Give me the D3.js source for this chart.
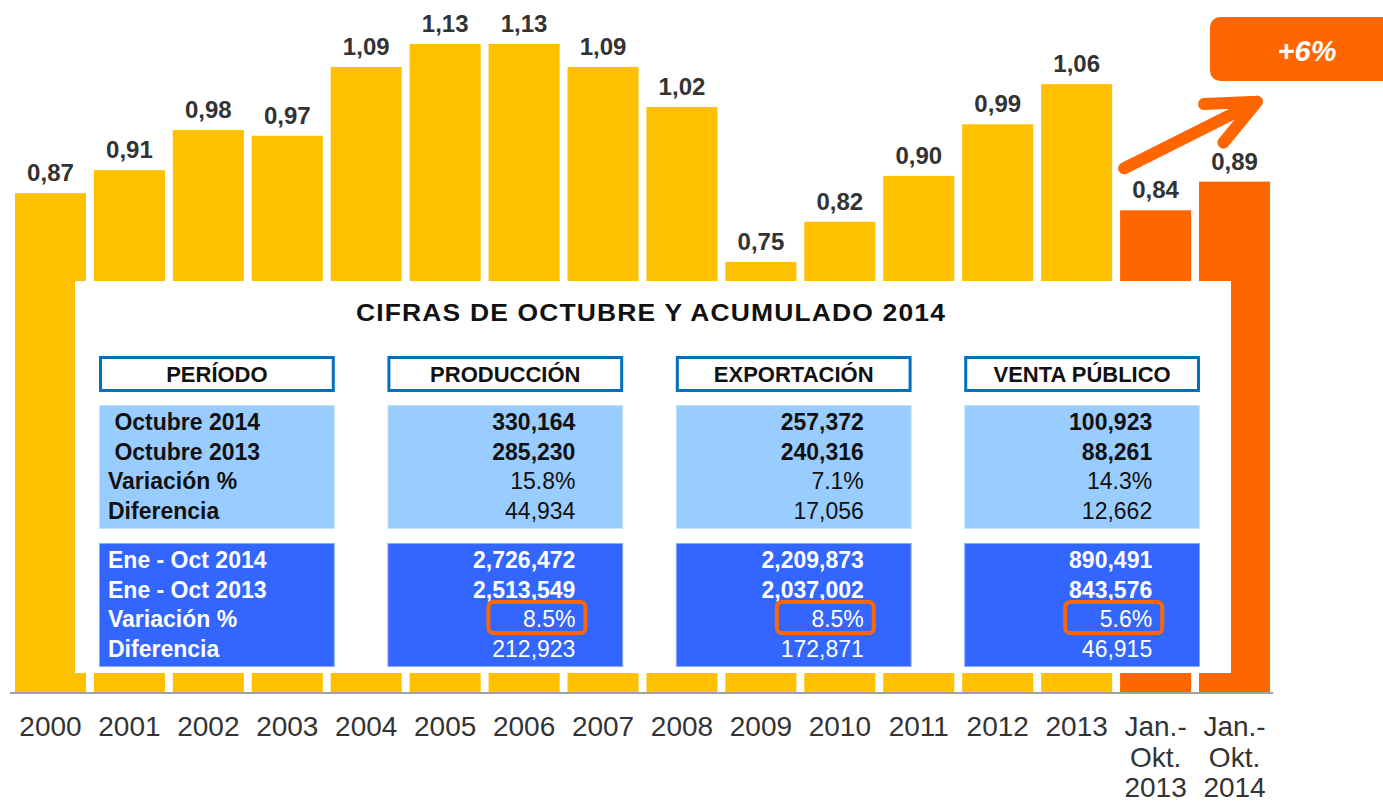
<!DOCTYPE html>
<html>
<head>
<meta charset="utf-8">
<script src="https://cdn.jsdelivr.net/npm/d3@7"></script>
<style>
  body { margin: 0; background: #fff; }
  svg { display: block; font-family: "Liberation Sans", Arial, sans-serif; }
  text { white-space: pre; }
</style>
</head>
<body>
<svg id="chart" width="1383" height="802"></svg>
<script>
// bar data (millions of units)
const categories = ["2000","2001","2002","2003","2004","2005","2006","2007","2008","2009","2010","2011","2012","2013","Jan.-\nOkt.\n2013","Jan.-\nOkt.\n2014"];
const values = [0.87,0.91,0.98,0.97,1.09,1.13,1.13,1.09,1.02,0.75,0.82,0.90,0.99,1.06,0.84,0.89];

// table data
const tableTitle = "CIFRAS DE OCTUBRE Y ACUMULADO 2014";
const columnHeaders = ["PERÍODO","PRODUCCIÓN","EXPORTACIÓN","VENTA PÚBLICO"];
const monthLabels = [" Octubre 2014"," Octubre 2013","Variación %","Diferencia"];
const ytdLabels = ["Ene - Oct 2014","Ene - Oct 2013","Variación %","Diferencia"];
const monthProduccion = ["330,164","285,230","15.8%","44,934"];
const monthExportacion = ["257,372","240,316","7.1%","17,056"];
const monthVenta = ["100,923","88,261","14.3%","12,662"];
const ytdProduccion = ["2,726,472","2,513,549","8.5%","212,923"];
const ytdExportacion = ["2,209,873","2,037,002","8.5%","172,871"];
const ytdVenta = ["890,491","843,576","5.6%","46,915"];

const yellow = "#FFC000", orange = "#FF6600";
const svg = d3.select("#chart");

var x = d3.scaleBand()
    .domain(categories)
    .range([11, 1274])
    .paddingInner(0.1)
    .paddingOuter(0.05);
var y = d3.scaleLinear()
    .domain([0, 1.13])
    .range([692, 44]);

const isYtd = d => d.startsWith("Jan");

// bars
svg.append("g")
  .selectAll("rect")
  .data(categories)
  .enter().append("rect")
    .attr("x", d => x(d))
    .attr("width", x.bandwidth())
    .attr("y", (d, i) => y(values[i]))
    .attr("height", (d, i) => y(0) - y(values[i]))
    .attr("fill", d => isYtd(d) ? orange : yellow);

// white panel covering the bars
svg.append("rect")
    .attr("x", 75).attr("y", 281)
    .attr("width", 1156).attr("height", 392)
    .attr("fill", "#fff");

// baseline
svg.append("line")
    .attr("x1", 10).attr("x2", 1273)
    .attr("y1", y(0) + 1).attr("y2", y(0) + 1)
    .attr("stroke", "#a0a0a0").attr("stroke-width", 2);

// value labels
svg.append("g")
  .selectAll("text")
  .data(categories)
  .enter().append("text")
    .attr("x", d => x(d) + x.bandwidth() / 2)
    .attr("y", (d, i) => y(values[i]) - 12)
    .attr("text-anchor", "middle")
    .style("font-size", "24px")
    .style("font-weight", "bold")
    .style("fill", "#333")
    .text((d, i) => values[i].toFixed(2).replace(".", ","));

// x axis labels
var xl = svg.append("g")
  .selectAll("text")
  .data(categories)
  .enter().append("text")
    .attr("text-anchor", "middle")
    .style("font-size", "28px")
    .style("fill", "#333");
xl.selectAll("tspan")
  .data(d => d.split("\n").map(t => ({t: t, c: d})))
  .enter().append("tspan")
    .attr("x", d => x(d.c) + x.bandwidth() / 2)
    .attr("y", (d, i) => 736 + i * 30.5)
    .text(d => d.t);

// table
var col = d3.scaleBand()
    .domain(columnHeaders)
    .range([99, 1200])
    .paddingInner(0.1825);
const monthCols = [monthLabels, monthProduccion, monthExportacion, monthVenta];
const ytdCols = [ytdLabels, ytdProduccion, ytdExportacion, ytdVenta];

svg.append("text")
    .attr("x", 356).attr("y", 321)
    .attr("textLength", 590)
    .attr("lengthAdjust", "spacingAndGlyphs")
    .style("font-size", "23px")
    .style("font-weight", "bold")
    .style("letter-spacing", "1px")
    .style("fill", "#111")
    .text(tableTitle);

var heads = svg.append("g").selectAll("g")
  .data(columnHeaders).enter().append("g");
heads.append("rect")
    .attr("x", d => col(d) + 1.5).attr("y", 357.5)
    .attr("width", col.bandwidth() - 3).attr("height", 33)
    .attr("fill", "#fff")
    .attr("stroke", "#0070C0").attr("stroke-width", 3);
heads.append("text")
    .attr("x", d => col(d) + col.bandwidth() / 2)
    .attr("y", 382)
    .attr("text-anchor", "middle")
    .style("font-size", "22px")
    .style("font-weight", "bold")
    .style("fill", "#111")
    .text(d => d);

function block(cols, top, fill, stroke, color) {
  var g = svg.append("g");
  g.selectAll("rect")
    .data(columnHeaders).enter().append("rect")
      .attr("x", d => col(d) + 0.5).attr("y", top + 0.5)
      .attr("width", col.bandwidth() - 1).attr("height", 123)
      .attr("fill", fill).attr("stroke", stroke);
  cols.forEach((rows, c) => {
    var left = col(columnHeaders[c]);
    g.append("g").selectAll("text")
      .data(rows).enter().append("text")
        .attr("x", c === 0 ? left + 9 : left + 188)
        .attr("y", (d, i) => top + 25 + i * 29.5)
        .attr("text-anchor", c === 0 ? "start" : "end")
        .style("font-size", "23px")
        .style("font-weight", (d, i) => (c === 0 || i < 2) ? "bold" : "normal")
        .style("fill", color)
        .text(d => d);
  });
  return g;
}
block(monthCols, 405, "#99CCFF", "#c4e2ff", "#111");
var ytd = block(ytdCols, 543, "#3366FF", "#8ea8ff", "#fff");

// highlight the year-to-date variation
ytd.selectAll(".hl")
  .data(columnHeaders.slice(1)).enter().append("rect")
    .attr("x", d => col(d) + 101).attr("y", 543 + 25 + 2 * 29.5 - 25)
    .attr("width", 97).attr("height", 31)
    .attr("rx", 5)
    .attr("fill", "none")
    .attr("stroke", orange).attr("stroke-width", 4);

// growth arrow
const a = categories[14], b = categories[15];
const x0 = x(a) + 4, y0 = y(values[14]) - 42;
const x1 = x(b) + 58, y1 = y(values[15]) - 80;
const ang = Math.atan2(y0 - y1, x0 - x1);
const arm = 53, spread = 0.42;
svg.append("path")
    .attr("d", `M${x0},${y0}L${x1},${y1}` +
      `M${x1 + arm * Math.cos(ang - spread)},${y1 + arm * Math.sin(ang - spread)}L${x1},${y1}` +
      `L${x1 + arm * Math.cos(ang + spread)},${y1 + arm * Math.sin(ang + spread)}`)
    .attr("fill", "none")
    .attr("stroke", orange)
    .attr("stroke-width", 12)
    .attr("stroke-linecap", "round")
    .attr("stroke-linejoin", "round");

// growth badge
const growth = Math.round((values[15] / values[14] - 1) * 100);
svg.append("rect")
    .attr("x", 1210).attr("y", 17)
    .attr("width", 190).attr("height", 64)
    .attr("rx", 10)
    .attr("fill", orange);
svg.append("text")
    .attr("x", 1307).attr("y", 61)
    .attr("text-anchor", "middle")
    .style("font-size", "29px")
    .style("font-weight", "bold")
    .style("font-style", "italic")
    .style("fill", "#fff")
    .text("+" + growth + "%");
</script>
</body>
</html>
